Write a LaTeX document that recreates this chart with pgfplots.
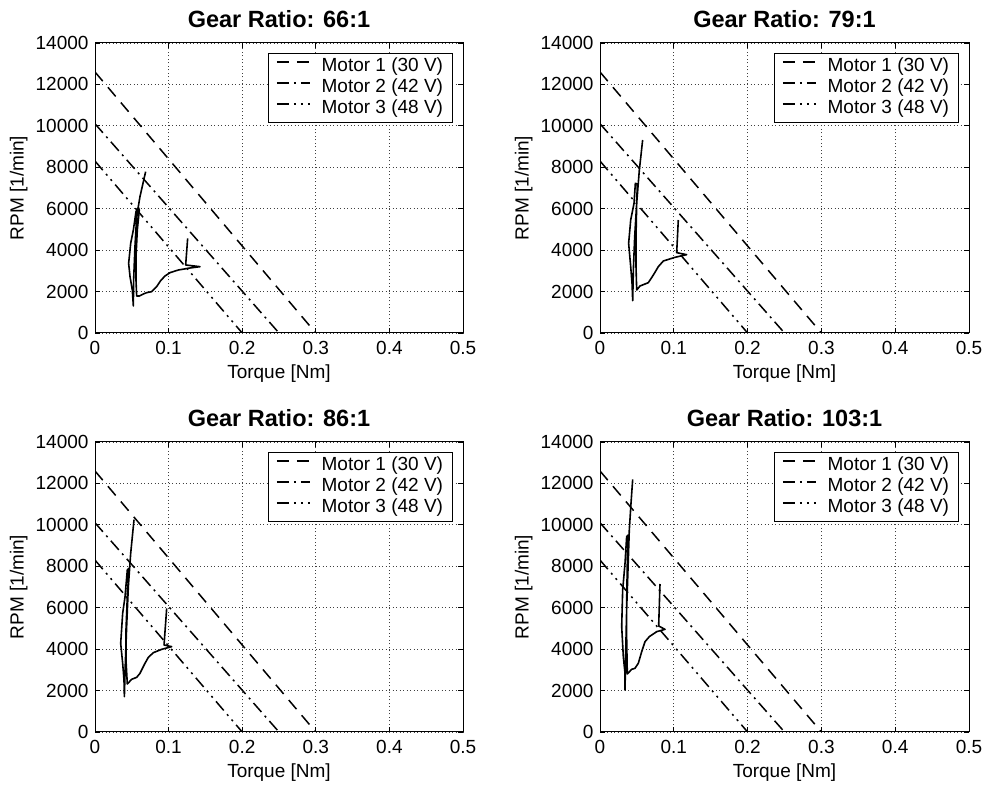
\documentclass[border=0pt]{standalone}
\usepackage{fontspec}
\setmainfont{Liberation Sans}
\usepackage{pgfplots}
\pgfplotsset{compat=1.18}
\newcommand{\fs}{\fontsize{19bp}{22bp}\selectfont}
\pgfplotsset{
  myax/.style={
    scale only axis, width=368bp, height=290bp, anchor=south west,
    xmin=0, xmax=0.5, ymin=0, ymax=14000,
    xtick={0,0.1,0.2,0.3,0.4,0.5},
    ytick={0,2000,4000,6000,8000,10000,12000,14000},
    scaled x ticks=false, scaled y ticks=false,
    /pgf/number format/fixed,
    /pgf/number format/1000 sep={},
    /pgf/number format/assume math mode=true,
    tick label style={font=\fs},
    xticklabel style={yshift=-4.5bp},
    yticklabel style={xshift=-3bp},
    tick align=inside, major tick length=5bp,
    tick style={black, line width=0.8bp},
    axis line style={line width=1bp},
    grid=major,
    major grid style={line width=0.8bp, black!75, dash pattern=on 1bp off 2.5bp},
    xlabel={Torque [Nm]}, ylabel={RPM [1/min]},
    label style={font=\fs},
    x label style={at={(axis description cs:0.5,-0.1414)}, anchor=center},
    y label style={at={(axis description cs:-0.207,0.5)}, anchor=center},
    title style={at={(axis description cs:0.5,1.062)}, anchor=center, font=\fontsize{23.5bp}{26bp}\selectfont\bfseries},
    legend style={at={(axis description cs:0.973,0.9655)}, anchor=north east, draw=black, line width=1bp, font=\fs,
      inner xsep=7.5bp, inner ysep=3bp, column sep=9bp,
      nodes={inner xsep=2bp, inner ysep=1.5bp, text height=13.5bp, text depth=4.5bp}},
    legend cell align=left,
    legend image code/.code={\draw[##1] (0bp,5bp) -- (33bp,5bp);},
  },
  m1/.style={black, line width=1.5bp, dash pattern=on 12bp off 8bp},
  m2/.style={black, line width=1.5bp, dash pattern=on 12bp off 5bp on 2bp off 5bp},
  m3/.style={black, line width=1.5bp, dash pattern=on 12bp off 5bp on 2bp off 5bp on 2bp off 5bp},
  tr/.style={black, line width=1.6bp, line join=round},
}
\newcommand{\motors}{%
  \addplot[m1] coordinates {(0,12600) (0.3,0)};
  \addlegendentry{Motor 1 (30 V)}
  \addplot[m2] coordinates {(0,10100) (0.25,0)};
  \addlegendentry{Motor 2 (42 V)}
  \addplot[m3] coordinates {(0,8300) (0.2,0)};
  \addlegendentry{Motor 3 (48 V)}
}
\begin{document}
\begin{tikzpicture}
\useasboundingbox (0,0) rectangle (988bp,787bp);
% 66:1
\begin{axis}[myax, at={(95bp,454bp)}, title={Gear Ratio: 66:1}]
\motors
\addplot[tr, forget plot] coordinates {
(0.1259,4570) (0.1232,3283) (0.1427,3202) (0.1291,3138) (0.1132,3041) (0.1019,2913)
(0.0951,2752) (0.0892,2526) (0.0838,2237) (0.0770,1995) (0.0702,1947) (0.0657,1883)
(0.0602,1786) (0.0566,1786) (0.0557,2559) (0.0557,3685) (0.0575,4972) (0.0602,5938)
(0.0589,6067) (0.0557,5857) (0.0521,4972) (0.0485,4329) (0.0457,3363) (0.0476,2720)
(0.0507,2076) (0.0521,1303) (0.0525,2559) (0.0543,4168) (0.0566,5616) (0.0611,6582)
(0.0688,7789)};
\end{axis}
% 79:1
\begin{axis}[myax, at={(600bp,454bp)}, width=369bp, title={Gear Ratio: 79:1}]
\motors
\addplot[tr, forget plot] coordinates {
(0.1061,5455) (0.1039,3878) (0.1174,3782) (0.1016,3653) (0.0858,3476) (0.0790,3202)
(0.0723,2800) (0.0655,2430) (0.0610,2366) (0.0542,2269) (0.0497,2076) (0.0488,3202)
(0.0488,4651) (0.0497,6260) (0.0506,7193) (0.0479,7225) (0.0461,6260) (0.0416,5455)
(0.0388,4329) (0.0416,3202) (0.0434,2398) (0.0443,1561) (0.0452,3041) (0.0470,4651)
(0.0497,6260) (0.0533,7869) (0.0578,9317)};
\end{axis}
% 86:1
\begin{axis}[myax, at={(95bp,55bp)}, title={Gear Ratio: 86:1}]
\motors
\addplot[tr, forget plot] coordinates {
(0.0974,5970) (0.0938,4200) (0.1042,4120) (0.0906,3991) (0.0793,3830) (0.0725,3605)
(0.0679,3315) (0.0611,2832) (0.0566,2639) (0.0498,2543) (0.0439,2317) (0.0421,3476)
(0.0421,4924) (0.0439,6533) (0.0462,7901) (0.0439,7821) (0.0408,6533) (0.0376,5729)
(0.0349,4281) (0.0376,3315) (0.0394,2510) (0.0399,1706) (0.0412,3315) (0.0430,5085)
(0.0453,7016) (0.0485,8625) (0.0530,10250)};
\end{axis}
% 103:1
\begin{axis}[myax, at={(600bp,55bp)}, width=369bp, title={Gear Ratio: 103:1}]
\motors
\addplot[tr, forget plot] coordinates {
(0.0813,7145) (0.0795,5117) (0.0881,4956) (0.0768,4844) (0.0668,4602) (0.0610,4361)
(0.0565,3878) (0.0519,3315) (0.0474,3074) (0.0429,3025) (0.0370,2800) (0.0361,4602)
(0.0361,6211) (0.0370,8143) (0.0384,9510) (0.0361,9430) (0.0339,8143) (0.0307,6855)
(0.0294,5085) (0.0316,3637) (0.0339,2832) (0.0339,2028) (0.0348,3798) (0.0361,5890)
(0.0379,7821) (0.0397,9752) (0.0420,11039) (0.0443,12198)};
\end{axis}
\end{tikzpicture}
\end{document}
